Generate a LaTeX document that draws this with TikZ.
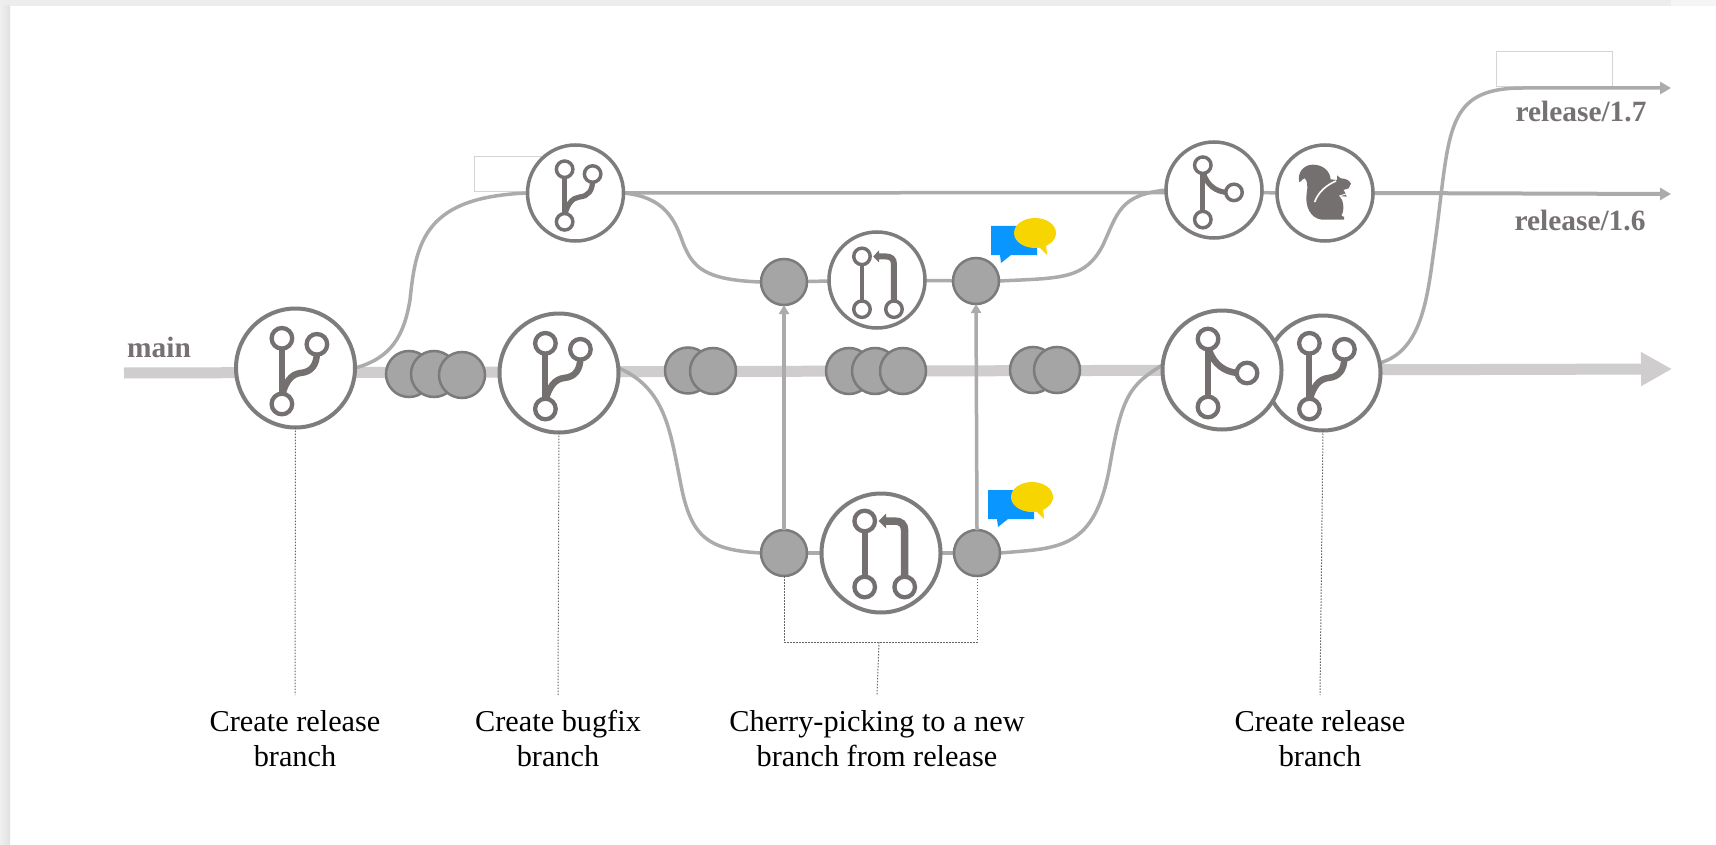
\documentclass[tikz,border=0pt]{standalone}
\usepackage{fontspec}
\setmainfont{Liberation Serif}
\usetikzlibrary{arrows.meta}
\pgfdeclarelayer{bg}
\pgfdeclarelayer{conn}
\pgfsetlayers{bg,conn,main}
\definecolor{ringc}{HTML}{7F7C7C}
\definecolor{iconc}{HTML}{757070}
\definecolor{commitf}{HTML}{A5A5A5}
\definecolor{commitd}{HTML}{7C7A7A}
\definecolor{branchc}{HTML}{ABABAB}
\definecolor{mainc}{HTML}{CFCDCD}
\definecolor{labelc}{HTML}{777272}
\definecolor{boxc}{HTML}{D4D4D4}
\definecolor{chatb}{HTML}{0A96FF}
\definecolor{chaty}{HTML}{F6D500}
\tikzset{
  bigring/.style={circle,draw=ringc,line width=4pt,fill=white,minimum size=119pt,inner sep=0pt,outer sep=0pt},
  midring/.style={circle,draw=ringc,line width=3.5pt,fill=white,minimum size=96pt,inner sep=0pt,outer sep=0pt},
  commit/.style={circle,draw=commitd,line width=2.5pt,fill=commitf,minimum size=46pt,inner sep=0pt,outer sep=0pt},
  branch/.style={draw=branchc,line width=3.5pt},
  pick/.style={draw=branchc,line width=3.5pt,-{Triangle[length=9pt,width=10pt]}},
  endarrow/.style={draw=branchc,line width=4pt,-{Triangle[length=11pt,width=12pt]}},
  trunk/.style={draw=mainc,line width=11pt,-{Triangle[length=31pt,width=32pt]}},
  leader/.style={draw=black!60,line width=1pt,dash pattern=on 1.5pt off 1.5pt},
  caption/.style={align=center,anchor=north,inner xsep=0pt,inner ysep=15pt,text=black,
    font=\fontsize{30.3}{35}\selectfont},
  tag/.style={text=labelc,anchor=base,inner sep=0pt,font=\fontsize{29.4}{35}\selectfont\bfseries},
  blank/.style={draw=boxc,line width=1pt,fill=white,anchor=north west,inner sep=0pt,outer sep=0pt},
}
\newcommand{\iconring}[3]{\draw[draw=iconc,fill=white,line width=#3*4.3pt] (#1,#2) circle (10.3);}
\newcommand{\forkicon}[2]{\begin{scope}[shift={(#1)},scale=#2]
  \draw[iconc,line width=#2*6pt] (-13.6,-22) -- (-13.6,28);
  \draw[iconc,line width=#2*6.5pt] (21.4,-16) .. controls (21.4,-3) and (16,4) .. (5,5) .. controls (-4,6) and (-10,14) .. (-13,26);
  \iconring{-13.6}{-29.7}{#2}\iconring{21.4}{-23.7}{#2}\iconring{-13.6}{36}{#2}
\end{scope}}
\newcommand{\mergeicon}[2]{\begin{scope}[shift={(#1)},scale=#2]
  \draw[iconc,line width=#2*6pt] (-14,-25) -- (-14,30);
  \draw[iconc,line width=#2*6.5pt] (-13,-20) .. controls (-8,-6) and (2,2) .. (16,3);
  \iconring{-14}{-31}{#2}\iconring{25}{3}{#2}\iconring{-14}{37}{#2}
\end{scope}}
\newcommand{\pricon}[2]{\begin{scope}[shift={(#1)},scale=#2]
  \draw[iconc,line width=#2*6pt] (-16.3,-24) -- (-16.3,26);
  \draw[iconc,line width=#2*7.5pt] (23.7,26) -- (23.7,-22) .. controls (23.7,-29) and (20,-32) .. (13,-32) -- (4,-32);
  \fill[iconc] (-2.3,-32) -- (5,-39.5) -- (5,-24.5) -- cycle;
  \iconring{-16.3}{-32}{#2}\iconring{-16.3}{34}{#2}\iconring{23.7}{34}{#2}
\end{scope}}
\newcommand{\chaticon}[1]{\begin{scope}[shift={(#1)}]
  \fill[chatb] (991,226) -- (1037,226) -- (1037,255) -- (1011,255) -- (1001,263) -- (1000,255) -- (991,255) -- cycle;
  \fill[chaty] (1035,233) ellipse (21 and 15);
  \fill[chaty] (1038,246) -- (1046,244) -- (1047,255) -- cycle;
\end{scope}}
\begin{document}
\begin{tikzpicture}[x=1pt,y=-1pt]
\useasboundingbox (0,0) rectangle (1716,845);
\begin{pgfonlayer}{bg}
  \fill[white] (0,0) rectangle (1716,845);
  \fill[black!7] (0,0) rectangle (1671,6);
  \fill[black!4] (1671,0) rectangle (1716,6);
  \shade[left color=black!6,right color=black!12] (0,6) rectangle (10,845);
  \node[blank,minimum width=70pt,minimum height=35pt] (box1) at (474,157) {};
  \node[blank,minimum width=116pt,minimum height=35pt] (box2) at (1496,52) {};
\end{pgfonlayer}

% stations
\node[bigring] (rel1) at (295.5,368) {};
\node[bigring] (bugfix) at (559,373) {};
\node[midring] (fork2) at (575.5,193) {};
\node[midring] (merge2) at (1214,190) {};
\node[midring] (squirrel) at (1325,193) {};
\node[midring] (pr1) at (877,280) {};
\node[bigring] (pr2) at (881,553) {};
\node[bigring,minimum size=115pt] (fork3) at (1323,373) {};
\node[bigring] (merge1) at (1222,370) {};

% commits
\node[commit] (a1) at (409,374) {};
\node[commit] (a2) at (434,374) {};
\node[commit] (a3) at (462,375) {};
\node[commit] (b1) at (688,370.5) {};
\node[commit] (b2) at (713,371) {};
\node[commit] (d1) at (849,371) {};
\node[commit] (d2) at (875,371) {};
\node[commit] (d3) at (903,371) {};
\node[commit] (e1) at (1033,370) {};
\node[commit] (e2) at (1057,370) {};
\node[commit] (c1) at (784,282) {};
\node[commit] (c2) at (976,281) {};
\node[commit] (c3) at (784,553) {};
\node[commit] (c4) at (977,553) {};

% free ends
\coordinate (mainstart) at (124,373);
\coordinate (mainend) at (1672,369);
\coordinate (end17) at (1671,88);
\coordinate (end16) at (1671,194);
\coordinate (cj) at (879,642);

% connectors
\begin{pgfonlayer}{conn}
  \draw[trunk] (mainstart) -- (mainend);
  \draw[branch] (rel1.east) .. controls (392,358) and (404,335) .. (410,300)
     .. controls (416,240) and (426,197) .. (fork2.west);
  \draw[branch] (fork2.east) -- (merge2.183);
  \draw[branch] (fork2.east) .. controls (665,197) and (675,220) .. (683,243)
     .. controls (693,268) and (705,280) .. (c1.west);
  \draw[branch] (c1) -- (pr1);
  \draw[branch] (pr1) -- (c2);
  \draw[branch] (c2.east) .. controls (1060,278) and (1085,280) .. (1103,245)
     .. controls (1118,212) and (1120,195) .. (merge2.west);
  \draw[branch] (merge2.-3) -- (squirrel.west);
  \draw[endarrow] (squirrel.east) -- (end16);
  \draw[branch] (bugfix.5) .. controls (665,388) and (670,430) .. (680,480)
     .. controls (690,535) and (705,550) .. (c3.west);
  \draw[branch] (c3) -- (pr2);
  \draw[branch] (pr2) -- (c4);
  \draw[branch] (c4.east) .. controls (1060,548) and (1095,550) .. (1110,465)
     .. controls (1122,395) and (1130,385) .. (merge1.175);
  \draw[endarrow,line width=3.5pt] (fork3.10) .. controls (1425,350) and (1428,290) .. (1436,235)
     .. controls (1450,130) and (1445,88) .. (1523,88) -- (end17);
\end{pgfonlayer}
\draw[pick] (c3.north) -- (c1.south);
\draw[pick] (c4.north) -- (c2.south);

% icons
\forkicon{rel1}{1}
\forkicon{bugfix}{1}
\forkicon{fork2}{0.8}
\forkicon{fork3}{1}
\mergeicon{merge1}{1}
\mergeicon{merge2}{0.8}
\pricon{875,282}{0.8}
\pricon{pr2}{1}
\chaticon{0,0}
\chaticon{-3,264}

% squirrel
\begin{scope}[shift={(1280,150)},scale=1/3]
  \fill[iconc] (58,97) .. controls (50,68) and (72,44) .. (98,44)
    .. controls (128,44) and (150,62) .. (152,88) -- (171,90) -- (171,76) -- (182,85)
    .. controls (195,85) and (208,90) .. (213,101) -- (206,115) -- (190,120) -- (195,127) -- (200,140)
    -- (178,138) -- (186,150) .. controls (192,165) and (192,185) .. (184,197) -- (192,201) -- (192,209)
    -- (125,209) .. controls (92,205) and (74,170) .. (80,130)
    .. controls (84,108) and (82,90) .. (74,85) .. controls (68,83) and (68,92) .. (58,97) -- cycle;
  \draw[white,line width=1.6pt] (168,93) .. controls (140,105) and (115,125) .. (104,156);
  \draw[white,line width=0.9pt] (178,138) -- (198,132);
\end{scope}

% labels
\node[tag] (mainlabel) at (159,357) {main};
\node[tag] (r17) at (1581,122) {release/1.7};
\node[tag] (r16) at (1580,230) {release/1.6};

\node[caption] (cap1) at (295,695) {Create release\\branch};
\node[caption] (cap2) at (558,695) {Create bugfix\\branch};
\node[caption] (cap3) at (877,695) {Cherry-picking to a new\\branch from release};
\node[caption] (cap4) at (1320,695) {Create release\\branch};

\draw[leader] (rel1.south) -- (cap1.north);
\draw[leader] (bugfix.south) -- (cap2.north);
\draw[leader] (fork3.south) -- (cap4.north);
\draw[leader] (c3.south) |- (cj) -| (c4.south);
\draw[leader] (cj) -- (cap3.north);
\end{tikzpicture}
\end{document}
